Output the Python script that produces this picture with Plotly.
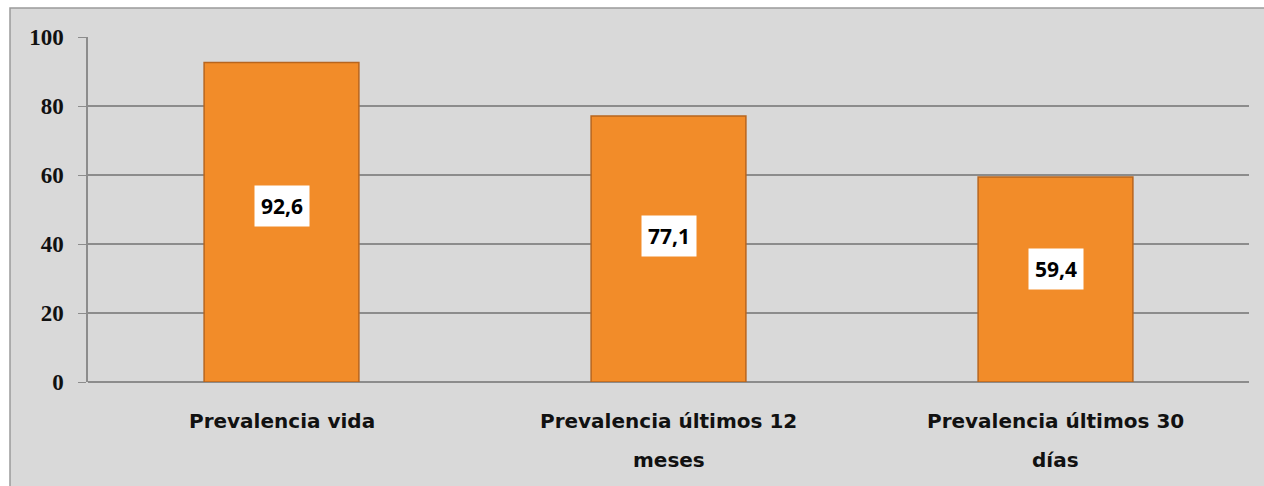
import plotly.graph_objects as go

# ── Data ──────────────────────────────────────────────────────────────────────
categories = [
    "Prevalencia vida",
    "Prevalencia últimos 12 meses",
    "Prevalencia últimos 30 días",
]
# how each category label wraps on the axis
category_lines = [
    ["Prevalencia vida"],
    ["Prevalencia últimos 12", "meses"],
    ["Prevalencia últimos 30", "días"],
]
values = [92.6, 77.1, 59.4]
value_labels = ["92,6", "77,1", "59,4"]
y_ticks = [0, 20, 40, 60, 80, 100]

# ── Styling ───────────────────────────────────────────────────────────────────
BAR_COLOUR = "#F28C29"
BAR_EDGE = "#B8651E"
GRID = "#8C8C8C"
PANEL = "#D9D9D9"

fig = go.Figure()

fig.add_trace(
    go.Bar(
        x=categories,
        y=values,
        marker=dict(color=BAR_COLOUR, line=dict(color=BAR_EDGE, width=1.5)),
        width=0.4,
        hoverinfo="x+y",
        showlegend=False,
    )
)

# value boxes inside the bars
for cat, val, lab in zip(categories, values, value_labels):
    fig.add_annotation(
        x=cat, y=val * 0.55, xref="x", yref="y",
        text=f"<b>{lab}</b>",
        showarrow=False,
        bgcolor="white",
        borderpad=6,
        font=dict(family="Open Sans", size=21, color="black"),
    )

# wrapped category labels under the axis
for cat, lines in zip(categories, category_lines):
    for i, line in enumerate(lines):
        fig.add_annotation(
            x=cat, y=0, xref="x", yref="y",
            text=f"<b>{line}</b>",
            showarrow=False,
            yanchor="middle",
            yshift=-(39 + 39 * i),
            font=dict(family="DejaVu Sans", size=20, color="#111111"),
        )

# grey chart panel with its border (runs off the right/bottom of the image)
fig.add_shape(
    type="rect", xref="paper", yref="paper", layer="below",
    x0=(10 - 88) / 1161, x1=(1275 - 88) / 1161,
    y0=-(115) / 345, y1=1 + 29 / 345,
    fillcolor=PANEL, line=dict(color="#9A9A9A", width=1.5),
)

fig.update_layout(
    width=1264,
    height=486,
    margin=dict(l=88, r=15, t=37, b=104),
    paper_bgcolor="white",
    plot_bgcolor="rgba(0,0,0,0)",
    bargap=0.6,
)

fig.update_xaxes(
    showticklabels=False,
    showgrid=False,
    showline=False,
    ticks="",
    range=[-0.5, 2.5],
)

fig.update_yaxes(
    range=[0, 100],
    tickvals=y_ticks,
    ticks="outside",
    ticklen=8,
    tickcolor=GRID,
    ticklabelstandoff=10,
    tickfont=dict(family="Liberation Serif", size=23, color="#111111", weight="bold"),
    showgrid=True,
    gridcolor=GRID,
    gridwidth=1.5,
    zeroline=True,
    zerolinecolor=GRID,
    zerolinewidth=1.5,
    showline=True,
    linecolor=GRID,
    linewidth=1.5,
)

fig.write_html(
    "out.html",
    config={"displayModeBar": False},
    post_script="document.body.style.margin='0';document.body.style.overflow='hidden';",
)
